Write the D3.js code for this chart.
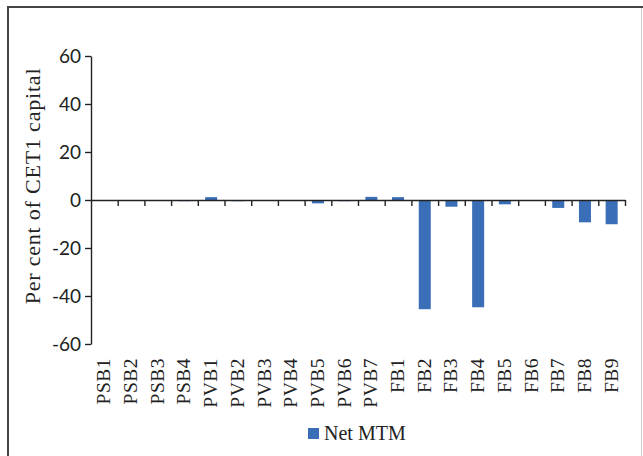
<!DOCTYPE html>
<html>
<head>
<meta charset="utf-8">
<script src="https://cdn.jsdelivr.net/npm/d3@7"></script>
<style>
  html, body { margin: 0; padding: 0; background: #fff; }
  svg { display: block; }
</style>
</head>
<body>
<div id="chart"></div>
<script>
// banks on the x axis
const banks = ["PSB1","PSB2","PSB3","PSB4","PVB1","PVB2","PVB3","PVB4","PVB5","PVB6","PVB7",
               "FB1","FB2","FB3","FB4","FB5","FB6","FB7","FB8","FB9"];
// Net MTM, per cent of CET1 capital
const netMTM = [-0.1,-0.2,-0.2,-0.5,1.2,-0.5,-0.2,-0.4,-1.4,-0.5,1.3,
                1.2,-45.5,-2.8,-44.7,-1.8,0,-3.3,-9.3,-10.1];
const yTicks = [-60,-40,-20,0,20,40,60];
const seriesName = "Net MTM";

const width = 643, height = 456;
const barColor = "#3a6fb8";
const serif = "'Liberation Serif', 'DejaVu Serif', serif";
const sans = "Lato, 'Liberation Sans', sans-serif";

const svg = d3.select("#chart").append("svg")
  .attr("width", width)
  .attr("height", height);

// frame
svg.append("line").attr("x1", 8).attr("x2", 8).attr("y1", 6).attr("y2", height)
  .attr("stroke", "#444").attr("stroke-width", 2);
svg.append("line").attr("x1", 7).attr("x2", 643).attr("y1", 7).attr("y2", 7)
  .attr("stroke", "#444").attr("stroke-width", 2);
svg.append("line").attr("x1", 641.5).attr("x2", 641.5).attr("y1", 8).attr("y2", height)
  .attr("stroke", "#ccc").attr("stroke-width", 1);

const x = d3.scaleBand()
  .domain(banks)
  .range([91, 625])
  .paddingInner(0.55)
  .paddingOuter(0.275);

const xEdges = d3.scaleLinear().domain([0, banks.length]).range([91, 625]);

const y = d3.scaleLinear()
  .domain([-60, 60])
  .range([344, 56]);

// bars
svg.append("g").selectAll("rect")
  .data(netMTM)
  .enter().append("rect")
    .attr("x", (d, i) => x(banks[i]))
    .attr("width", x.bandwidth())
    .attr("y", d => y(Math.max(0, d)))
    .attr("height", d => Math.abs(y(d) - y(0)))
    .style("fill", barColor);

// y axis
const yAxis = svg.append("g")
  .attr("transform", "translate(91,0)")
  .call(d3.axisLeft(y).tickValues(yTicks).tickSize(6).tickSizeOuter(0).tickFormat(d => String(d)));
yAxis.select(".domain").attr("stroke", "#222").attr("stroke-width", 1.4);
yAxis.selectAll(".tick line").attr("stroke", "#222").attr("stroke-width", 1.4);
yAxis.selectAll(".tick text")
  .attr("x", -10)
  .style("font-family", sans)
  .style("font-size", "19px")
  .style("fill", "#222");

// zero line with category-boundary ticks
const zeroAxis = svg.append("g")
  .attr("transform", `translate(0,${y(0)})`)
  .call(d3.axisBottom(xEdges).tickValues(d3.range(1, banks.length + 1)).tickSize(6).tickSizeOuter(0).tickFormat(""));
zeroAxis.select(".domain").attr("stroke", "#222").attr("stroke-width", 1.4);
zeroAxis.selectAll(".tick line").attr("stroke", "#222").attr("stroke-width", 1.4);

// category labels at the bottom
svg.append("g").selectAll("text")
  .data(banks)
  .enter().append("text")
    .attr("transform", d => `translate(${x(d) + x.bandwidth() / 2 + 6},358) rotate(-90)`)
    .attr("text-anchor", "end")
    .style("font-family", serif)
    .style("font-size", "19.5px")
    .style("letter-spacing", "0.5px")
    .style("fill", "#222")
    .text(d => d);

// y axis title
svg.append("text")
  .attr("transform", "translate(40,186) rotate(-90)")
  .attr("text-anchor", "middle")
  .style("font-family", serif)
  .style("font-size", "22px")
  .style("letter-spacing", "0.8px")
  .style("fill", "#222")
  .text("Per cent of CET1 capital");

// legend
const legend = svg.append("g").attr("transform", "translate(308,428)");
legend.append("rect").attr("width", 11).attr("height", 11).style("fill", barColor);
legend.append("text")
  .attr("x", 16).attr("y", 12)
  .style("font-family", serif)
  .style("font-size", "20px")
  .style("fill", "#222")
  .text(seriesName);
</script>
</body>
</html>
